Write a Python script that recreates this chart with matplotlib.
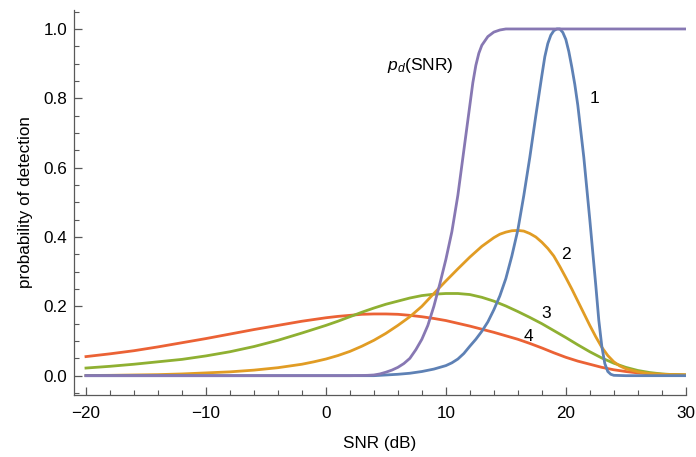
import numpy as np
import matplotlib.pyplot as plt
from matplotlib.ticker import MultipleLocator

# -------------------------------
# data
# -------------------------------
snr_pd = [-20, -10, 0, 2, 3, 3.5, 4, 4.5, 5, 5.5, 6, 6.5, 7, 7.5, 8, 8.5, 9, 9.5,
          10, 10.5, 11, 11.5, 12, 12.25, 12.5, 12.75, 13, 13.5, 14, 14.5, 15, 20, 30]
pd_vals = [0, 0, 0, 0, 0.0005, 0.001, 0.002, 0.005, 0.01, 0.016, 0.024, 0.035, 0.05,
           0.075, 0.105, 0.145, 0.2, 0.265, 0.335, 0.415, 0.52, 0.65, 0.78, 0.845,
           0.895, 0.93, 0.953, 0.978, 0.991, 0.997, 1.0, 1.0, 1.0]

snr_1 = [-20, -10, 0, 4, 5, 6, 7, 8, 9, 10, 10.5, 11, 11.5, 12, 12.5, 13, 13.5, 14,
         14.5, 15, 15.5, 16, 16.5, 17, 17.5, 18, 18.25, 18.5, 18.75, 19, 19.25, 19.5,
         19.75, 20, 20.25, 20.5, 20.75, 21, 21.5, 22, 22.5, 22.75, 23, 23.25, 23.5,
         23.75, 24, 25, 30]
curve_1 = [0, 0, 0, 0, 0.002, 0.004, 0.007, 0.012, 0.019, 0.029, 0.037, 0.048, 0.064,
           0.085, 0.105, 0.128, 0.155, 0.19, 0.23, 0.28, 0.345, 0.42, 0.52, 0.63, 0.75,
           0.865, 0.92, 0.958, 0.982, 0.995, 1.0, 1.0, 0.99, 0.97, 0.935, 0.89, 0.84,
           0.78, 0.63, 0.45, 0.26, 0.16, 0.085, 0.035, 0.012, 0.004, 0.001, 0, 0]

snr_2 = [-20, -18, -16, -14, -12, -10, -8, -6, -4, -2, -1, 0, 1, 2, 3, 4, 5, 6, 7, 8,
         9, 10, 11, 12, 13, 14, 14.5, 15, 15.5, 16, 16.5, 17, 17.5, 18, 18.5, 19, 19.5,
         20, 20.5, 21, 21.5, 22, 22.5, 23, 23.5, 24, 24.5, 25, 26, 27, 28, 30]
curve_2 = [0.0005, 0.001, 0.002, 0.003, 0.005, 0.008, 0.011, 0.016, 0.023, 0.033, 0.04,
           0.048, 0.058, 0.07, 0.085, 0.102, 0.122, 0.145, 0.17, 0.2, 0.237, 0.273,
           0.308, 0.342, 0.373, 0.398, 0.408, 0.414, 0.418, 0.419, 0.417, 0.41, 0.4,
           0.385, 0.367, 0.345, 0.315, 0.283, 0.25, 0.215, 0.18, 0.145, 0.112, 0.082,
           0.058, 0.04, 0.028, 0.02, 0.011, 0.006, 0.004, 0.002]

snr_34 = [-20, -18, -16, -14, -12, -10, -8, -6, -4, -2, 0, 1, 2, 3, 4, 5, 6, 7, 8, 9,
          10, 11, 12, 13, 14, 15, 16, 17, 18, 19, 20, 21, 22, 23, 24, 25, 26, 27, 28,
          29, 30]
curve_3 = [0.022, 0.027, 0.033, 0.04, 0.047, 0.057, 0.069, 0.084, 0.102, 0.123, 0.145,
           0.157, 0.17, 0.183, 0.195, 0.206, 0.215, 0.224, 0.231, 0.235, 0.237, 0.237,
           0.234, 0.226, 0.215, 0.201, 0.185, 0.168, 0.15, 0.13, 0.11, 0.089, 0.069,
           0.051, 0.036, 0.024, 0.015, 0.009, 0.005, 0.003, 0.002]
curve_4 = [0.055, 0.063, 0.072, 0.083, 0.095, 0.107, 0.12, 0.133, 0.145, 0.157, 0.167,
           0.171, 0.174, 0.177, 0.178, 0.178, 0.177, 0.174, 0.17, 0.165, 0.159, 0.151,
           0.143, 0.134, 0.125, 0.115, 0.105, 0.093, 0.08, 0.066, 0.053, 0.042, 0.033,
           0.024, 0.017, 0.012, 0.008, 0.005, 0.004, 0.003, 0.002]

# -------------------------------
# style
# -------------------------------
plt.rcParams['font.family'] = ['Liberation Sans', 'DejaVu Sans']
plt.rcParams['mathtext.fontset'] = 'custom'
plt.rcParams['mathtext.it'] = 'Liberation Sans:italic'
plt.rcParams['mathtext.rm'] = 'Liberation Sans'

blue, orange, green, red, purple = '#5E81B5', '#E19C24', '#8FB032', '#EB6235', '#8778B3'

fig = plt.figure(figsize=(6.96, 4.57), dpi=100)
ax = fig.add_axes([0.1063, 0.1357, 0.879, 0.8425])

lw = 2.0
ax.plot(snr_34, curve_4, color=red, lw=lw)
ax.plot(snr_34, curve_3, color=green, lw=lw)
ax.plot(snr_2, curve_2, color=orange, lw=lw)
ax.plot(snr_1, curve_1, color=blue, lw=lw)
ax.plot(snr_pd, pd_vals, color=purple, lw=lw)

# curve labels
ax.text(7.9, 0.895, r'$p_d$(SNR)', fontsize=12.5, ha='center', va='center')
ax.text(22.4, 0.80, '1', fontsize=12.5, ha='center', va='center')
ax.text(20.0, 0.35, '2', fontsize=12.5, ha='center', va='center')
ax.text(18.4, 0.18, '3', fontsize=12.5, ha='center', va='center')
ax.text(16.9, 0.112, '4', fontsize=12.5, ha='center', va='center')

# axes
ax.set_xlim(-21, 30)
ax.set_ylim(-0.0557, 1.0548)
ax.xaxis.set_major_locator(MultipleLocator(10))
ax.xaxis.set_minor_locator(MultipleLocator(2))
ax.yaxis.set_major_locator(MultipleLocator(0.2))
ax.yaxis.set_minor_locator(MultipleLocator(0.05))
ax.yaxis.set_major_formatter(plt.FuncFormatter(lambda v, p: f'{v:.1f}'))

for side in ['top', 'right']:
    ax.spines[side].set_visible(False)
for side in ['left', 'bottom']:
    ax.spines[side].set_color('0.35')
    ax.spines[side].set_linewidth(0.9)

ax.tick_params(which='both', direction='in', color='0.35', labelsize=12.3)
ax.tick_params(which='major', length=6, width=0.9)
ax.tick_params(which='minor', length=3.5, width=0.8)
ax.tick_params(axis='x', pad=8)
ax.tick_params(axis='y', pad=5)

ax.set_xlabel('SNR (dB)', fontsize=12.3, labelpad=11)
ax.set_ylabel('probability of detection', fontsize=12.3, labelpad=7)

fig.savefig('out.png', dpi=100)
